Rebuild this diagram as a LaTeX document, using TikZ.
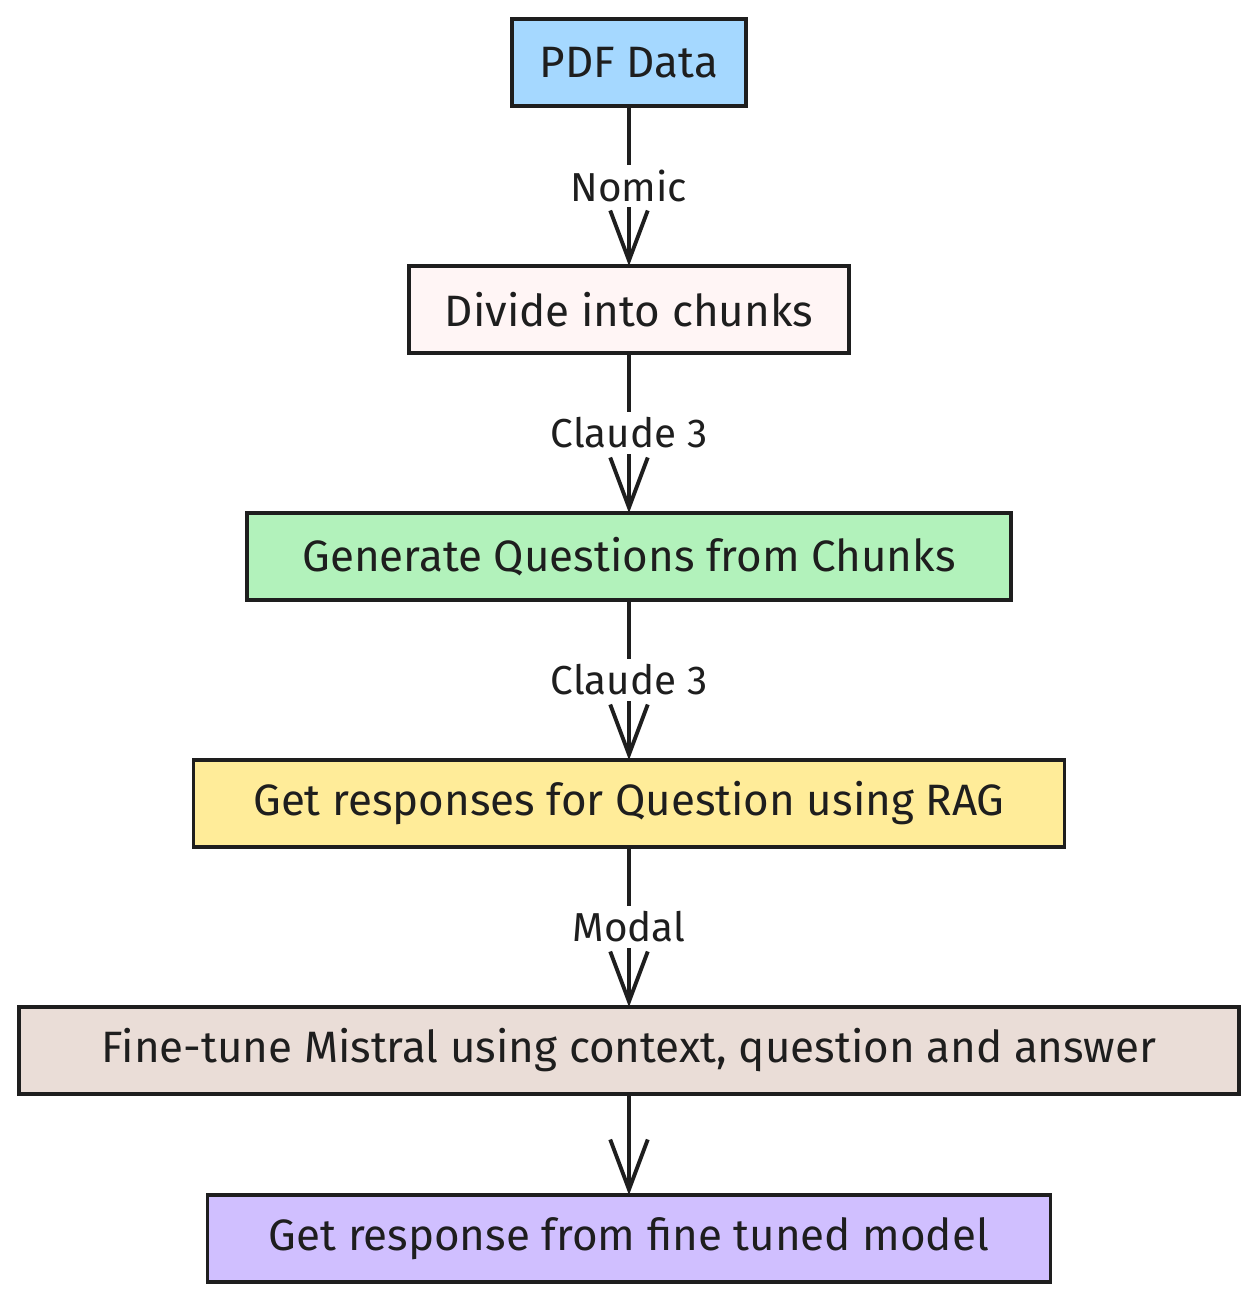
\documentclass[tikz,border=0pt]{standalone}
\usepackage{fontspec}
\setmainfont{Fira Sans}
\usepackage{tikz}
\usetikzlibrary{
        arrows.meta,
        positioning
    }
\definecolor{ink}{HTML}{1E1E1E}
\definecolor{pdfblue}{HTML}{A5D8FF}
\definecolor{chunkpink}{HTML}{FFF5F5}
\definecolor{qgreen}{HTML}{B2F2BB}
\definecolor{ragyellow}{HTML}{FFEC99}
\definecolor{tunebeige}{HTML}{EADDD7}
\definecolor{modelpurple}{HTML}{D0BFFF}
\tikzset{>={Straight Barb[length=1cm,width=0.75cm]},shorten >=0pt,node distance=3.2cm}
\tikzset{stagebox/.style={draw=ink,line width=2.2pt,outer sep=0pt,minimum height=1.74cm,inner sep=0pt,font=\fontsize{25}{30}\selectfont,text=ink}}
\tikzset{toollabel/.style={fill=white,inner sep=3pt,font=\fontsize{23}{28}\selectfont,text=ink}}

\begin{document}
\begin{tikzpicture}[>={Straight Barb[length=1cm,width=0.75cm]},shorten >=0pt,node distance=3.2cm]
            \useasboundingbox (-12.58,1.25) rectangle (12.60,-24.75);
            \node[stagebox,fill=pdfblue,minimum width=4.68cm] (pdf) {PDF Data};
            \node[stagebox,fill=chunkpink,minimum width=8.8cm] (chunks) [below=of pdf] {Divide into chunks};
            \node[stagebox,fill=qgreen,minimum width=15.28cm] (questions) [below=of chunks] {Generate Questions from Chunks};
            \node[stagebox,fill=ragyellow,minimum width=17.42cm] (rag) [below=of questions] {Get responses for Question using RAG};
            \node[stagebox,fill=tunebeige,minimum width=24.4cm] (finetune) [below=of rag] {Fine-tune Mistral using context, question and answer};
            \node[stagebox,fill=modelpurple,minimum width=16.86cm] (model) [below=2.02cm of finetune] {Get response from fine tuned model};
            \path[->,draw=ink,line width=2.2pt]
                (pdf)       edge  node[toollabel] {Nomic} (chunks)
                (chunks)    edge  node[toollabel] {Claude 3} (questions)
                (questions) edge  node[toollabel] {Claude 3} (rag)
                (rag)       edge  node[toollabel] {Modal} (finetune)
                (finetune)  edge  (model);
        \end{tikzpicture}
\end{document}
